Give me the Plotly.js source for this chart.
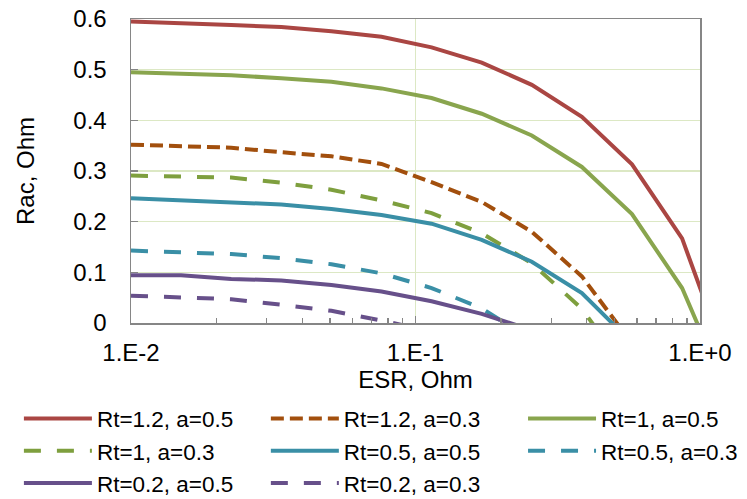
<!DOCTYPE html>
<html><head><meta charset="utf-8">
<script src="https://cdn.plot.ly/plotly-3.0.1.min.js"></script>
<style>html,body{margin:0;padding:0;background:#fff}#chart{width:747px;height:499px}</style>
</head><body><div id="chart"></div>
<script>
// ESR values (Ohm) of the sampled points
const esr = [0.01, 0.015, 0.0225, 0.03375, 0.050625, 0.0759375, 0.1139, 0.1709, 0.2563, 0.3844, 0.5767, 0.8650, 1.2975];

// Rac (Ohm) for each curve
const rt12_a05 = [0.595, 0.592, 0.588, 0.584, 0.576, 0.565, 0.544, 0.514, 0.470, 0.407, 0.313, 0.167, -0.105];
const rt12_a03 = [0.352, 0.350, 0.346, 0.337, 0.329, 0.314, 0.278, 0.239, 0.180, 0.092, -0.040];
const rt1_a05  = [0.495, 0.492, 0.489, 0.483, 0.476, 0.463, 0.444, 0.413, 0.370, 0.308, 0.215, 0.069, -0.161];
const rt1_a03  = [0.291, 0.289, 0.287, 0.277, 0.263, 0.242, 0.217, 0.177, 0.118, 0.028, -0.108];
const rt05_a05 = [0.246, 0.242, 0.239, 0.234, 0.225, 0.213, 0.196, 0.164, 0.121, 0.059, -0.039];
const rt05_a03 = [0.143, 0.140, 0.136, 0.128, 0.116, 0.098, 0.069, 0.029, -0.034];
const rt02_a05 = [0.094, 0.094, 0.087, 0.084, 0.075, 0.062, 0.043, 0.018, -0.014];
const rt02_a03 = [0.054, 0.051, 0.047, 0.036, 0.024, 0.005, -0.017];

const seriesNames = ['Rt=1.2, a=0.5', 'Rt=1.2, a=0.3', 'Rt=1, a=0.5', 'Rt=1, a=0.3',
                     'Rt=0.5, a=0.5', 'Rt=0.5, a=0.3', 'Rt=0.2, a=0.5', 'Rt=0.2, a=0.3'];
const seriesValues = [rt12_a05, rt12_a03, rt1_a05, rt1_a03, rt05_a05, rt05_a03, rt02_a05, rt02_a03];

const xTickVals = [0.01, 0.1, 1];
const xTickText = ['1.E-2', '1.E-1', '1.E+0'];

// styles
const colors = ['#AA4643', '#A24F0D', '#89A54E', '#7E9F3E', '#3A8FA6', '#3A8FA6', '#67508A', '#67508A'];
const dashes = ['solid', '13px,6px', 'solid', '17px,16px', 'solid', '17px,16px', 'solid', '17px,16px'];
const legendIds = ['legend', 'legend2', 'legend3', 'legend', 'legend2', 'legend3', 'legend', 'legend2'];

const traces = seriesNames.map((name, i) => ({
  type: 'scatter', mode: 'lines', name: name,
  x: esr.slice(0, seriesValues[i].length), y: seriesValues[i],
  line: {color: colors[i], width: 4, dash: dashes[i]},
  legend: legendIds[i], hoverinfo: 'skip'
}));

const font = 'Liberation Sans, Arial, sans-serif';
const legendBase = {
  orientation: 'v', yanchor: 'top', xanchor: 'left', y: -0.245,
  bgcolor: 'rgba(0,0,0,0)', borderwidth: 0, itemwidth: 68,
  font: {family: font, size: 22.5, color: '#000'}, tracegroupgap: 0
};

const layout = {
  width: 747, height: 499,
  margin: {l: 131, r: 47, t: 19, b: 176, autoexpand: false},
  paper_bgcolor: '#ffffff', plot_bgcolor: '#ffffff',
  font: {family: font, size: 24, color: '#000'},
  showlegend: true,
  legend: Object.assign({}, legendBase, {x: -0.197}),
  legend2: Object.assign({}, legendBase, {x: 0.237}),
  legend3: Object.assign({}, legendBase, {x: 0.689}),
  xaxis: {
    type: 'log', range: [-2, 0], tickmode: 'array', tickvals: xTickVals, ticktext: xTickText,
    ticks: 'inside', ticklen: 7, tickcolor: '#868686', tickwidth: 1.3,
    showline: true, linecolor: '#868686', linewidth: 1.5, mirror: true,
    showgrid: true, gridcolor: '#DCE8C4', gridwidth: 1.3, zeroline: false,
    ticklabelstandoff: 8,
    tickfont: {family: font, size: 24},
    minor: {ticks: 'inside', ticklen: 5, tickcolor: '#868686', tickwidth: 1.3, dtick: 'D1', showgrid: false},
    title: {text: 'ESR, Ohm', standoff: 6, font: {family: font, size: 24}},
    automargin: false
  },
  yaxis: {
    range: [0, 0.6], dtick: 0.1, tick0: 0,
    ticks: 'inside', ticklen: 7, tickcolor: '#868686', tickwidth: 1.3,
    showline: true, linecolor: '#868686', linewidth: 1.5, mirror: true,
    showgrid: true, gridcolor: '#DCE8C4', gridwidth: 1.3, zeroline: false,
    ticklabelstandoff: 18,
    tickfont: {family: font, size: 24},
    title: {text: 'Rac, Ohm', standoff: 32, font: {family: font, size: 24}},
    automargin: false
  }
};

Plotly.newPlot('chart', traces, layout, {staticPlot: true, displayModeBar: false});
</script>
</body></html>
